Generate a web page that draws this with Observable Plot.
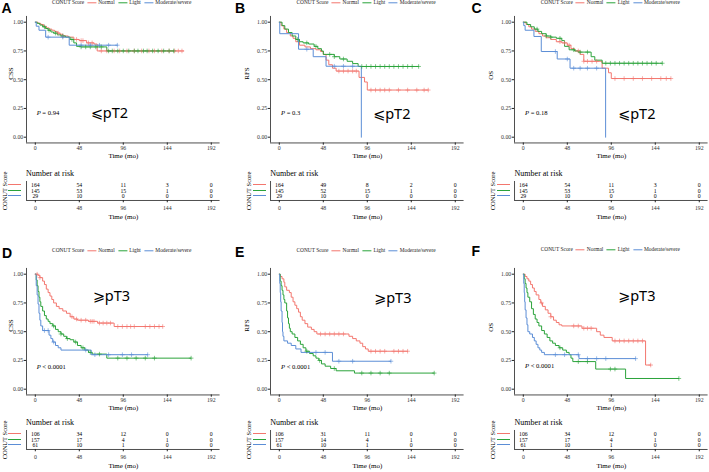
<!DOCTYPE html>
<html><head><meta charset="utf-8">
<script src="https://cdn.jsdelivr.net/npm/d3@7"></script>
<script src="https://cdn.jsdelivr.net/npm/@observablehq/plot@0.6"></script>
<style>
body{margin:0;background:#fff;}
#root{position:relative;width:709px;height:472px;overflow:hidden;background:#fff;font-family:"Liberation Serif",serif;}
.abs{position:absolute;white-space:nowrap;line-height:1;}
#root svg{position:absolute;overflow:visible;background:transparent;}
</style></head><body><div id="root"></div>
<script>
// ---------------- data ----------------
const GROUPS = ["Normal", "Light", "Moderate/severe"];
const COLORS = ["#F3766E", "#2AA33A", "#5B8ED6"];
const TIME_TICKS = [0, 48, 96, 144, 192];
const SURV_TICKS = [0, 0.25, 0.5, 0.75, 1];
const PANEL_IDS = ["A", "B", "C", "D", "E", "F"];
const Y_LABELS = ["CSS", "RFS", "OS", "CSS", "RFS", "OS"];
const P_VALUES = ["= 0.94", "= 0.3", "= 0.18", "< 0.0001", "< 0.0001", "< 0.0001"];
const STAGE_LABELS = ["⩽pT2", "⩽pT2", "⩽pT2", "⩾pT3", "⩾pT3", "⩾pT3"];

// Panel A  (CSS, <= pT2)
const A_normal = [[0,1],[3,0.99],[6,0.98],[9,0.965],[12,0.95],[15,0.94],[18,0.93],[21,0.92],[24,0.905],[27,0.895],[30,0.88],[36,0.87],[42,0.85],[48,0.84],[56,0.82],[64,0.81],[67.5,0.75],[162,0.75]];
const A_light = [[0,1],[2,0.99],[5,0.975],[8,0.96],[11,0.945],[14,0.93],[17,0.915],[20,0.905],[24,0.89],[28,0.88],[33,0.87],[38,0.85],[42,0.82],[45,0.79],[50,0.785],[78,0.75],[151,0.75]];
const A_mod = [[0,1],[1,0.965],[4,0.93],[11.3,0.87],[37,0.80],[89.5,0.80]];
const A_normal_cens = [25,30,45,50,52,58,62,72,78,86,92,100,108,116,124,130,138,146,152,156,160];
const A_light_cens = [10,15,22,30,40,50,55,60,66,72,80,84,90,96,102,108,112,118,122,128,134,140,146,151];
const A_mod_cens = [14,30,50,60,70,80,89.5];

// Panel B  (RFS, <= pT2)
const B_normal = [[0,1],[2,0.97],[5,0.94],[8,0.91],[12,0.88],[15,0.86],[18,0.83],[22,0.80],[28,0.785],[34,0.77],[40,0.76],[45,0.745],[48,0.72],[51,0.67],[54,0.63],[58,0.60],[62,0.575],[87,0.52],[93,0.48],[96,0.41],[162.5,0.41]];
const B_light = [[0,1],[3,0.97],[6,0.94],[10,0.91],[14,0.88],[18,0.85],[22,0.83],[26,0.82],[32,0.81],[38,0.79],[42,0.77],[46,0.75],[48,0.72],[60,0.70],[66,0.68],[74,0.66],[80,0.64],[86,0.615],[152,0.615]];
const B_mod = [[0,1],[0.5,0.90],[21,0.765],[37,0.70],[51,0.617],[89.5,0]];
const B_normal_cens = [65,70,75,80,84,100,105,110,115,120,130,140,150,158,162.5];
const B_light_cens = [20,30,40,55,60,70,90,95,100,105,110,115,120,125,130,135,140,145,152];
const B_mod_cens = [30,60,70,80];

// Panel C  (OS, <= pT2)
const C_normal = [[0,1],[3,0.98],[6,0.96],[9,0.94],[13,0.92],[17,0.90],[21,0.88],[25,0.865],[30,0.85],[36,0.83],[42,0.82],[48,0.80],[52,0.77],[56,0.75],[62,0.72],[66,0.66],[86,0.60],[93,0.56],[96,0.51],[161,0.51]];
const C_light = [[0,1],[4,0.98],[8,0.96],[12,0.94],[16,0.92],[20,0.90],[25,0.88],[30,0.87],[36,0.86],[42,0.84],[45,0.79],[50,0.76],[56,0.75],[60,0.74],[74,0.70],[78,0.67],[86,0.643],[151.6,0.643]];
const C_mod = [[0,1],[0.5,0.97],[2,0.93],[11.6,0.876],[19.6,0.745],[37,0.68],[51,0.60],[89.8,0]];
const C_normal_cens = [40,45,50,60,66,70,75,80,100,110,120,130,140,150,156,161];
const C_light_cens = [15,25,30,40,55,62,70,90,95,100,105,110,115,120,125,130,135,140,145,151.6];
const C_mod_cens = [35,48,55,62,70,80];

// Panel D  (CSS, >= pT3)
const D_normal = [[0,1],[3,0.99],[5,0.97],[8,0.94],[10,0.91],[12,0.87],[14,0.84],[16,0.81],[18,0.78],[20,0.75],[23,0.72],[26,0.70],[30,0.68],[34,0.66],[38,0.63],[42,0.61],[46,0.60],[58,0.59],[68,0.575],[86,0.545],[139,0.545]];
const D_light = [[0,1],[1,0.95],[2,0.90],[3,0.85],[4,0.80],[5,0.76],[6,0.72],[8,0.68],[10,0.64],[12,0.61],[14,0.59],[16,0.57],[19,0.55],[22,0.52],[25,0.50],[28,0.48],[31,0.46],[34,0.44],[38,0.43],[42,0.41],[46,0.38],[50,0.36],[54,0.34],[58,0.32],[62,0.305],[78,0.27],[170,0.27]];
const D_mod = [[0,1],[1,0.90],[2,0.82],[3,0.74],[4,0.66],[5,0.60],[6,0.55],[8,0.51],[15,0.47],[17,0.44],[19,0.41],[22,0.38],[25,0.36],[28,0.34],[61,0.30],[122.6,0.30]];
const D_normal_cens = [2,5,40,45,50,55,60,62,64,70,74,78,82,90,95,100,104,108,120,125,130,135,139];
const D_light_cens = [20,28,35,44,52,60,70,90,100,110,120,130,170];
const D_mod_cens = [10,14,20,55,65,80,95,105,122.6];

// Panel E  (RFS, >= pT3)
const E_normal = [[0,1],[1,0.98],[3,0.96],[5,0.93],[6,0.89],[8,0.86],[11,0.84],[13,0.80],[15,0.76],[17,0.73],[19,0.70],[21,0.67],[23,0.63],[25,0.60],[28,0.57],[31,0.54],[35,0.52],[38,0.50],[41,0.48],[76,0.46],[80,0.44],[84,0.42],[88,0.40],[91,0.37],[94,0.35],[97,0.33],[140,0.33]];
const E_light = [[0,1],[1,0.94],[2,0.90],[3,0.86],[4,0.82],[5,0.78],[6,0.75],[8,0.68],[9,0.62],[10,0.57],[11,0.53],[12,0.50],[14,0.48],[17,0.45],[20,0.42],[23,0.39],[26,0.36],[29,0.33],[33,0.31],[37,0.29],[40,0.27],[43,0.25],[46,0.22],[50,0.20],[56,0.18],[62,0.16],[82,0.14],[169,0.14]];
const E_mod = [[0,1],[0.5,0.92],[1,0.84],[1.5,0.76],[2,0.68],[3,0.58],[3.5,0.50],[4,0.46],[5,0.42],[9,0.40],[13,0.38],[18,0.35],[23.7,0.32],[58,0.243],[121.8,0.243]];
const E_normal_cens = [45,50,55,60,65,70,100,105,110,115,125,130,135,140];
const E_light_cens = [30,44,60,90,100,110,120,169];
const E_mod_cens = [40,50,65,80,121.8];

// Panel F  (OS, >= pT3)
const F_normal = [[0,1],[2,0.98],[4,0.96],[6,0.94],[8,0.91],[10,0.88],[12,0.85],[14,0.82],[17,0.78],[19,0.75],[21,0.72],[24,0.69],[27,0.66],[30,0.63],[33,0.60],[36,0.58],[39,0.56],[42,0.55],[64,0.53],[80,0.50],[84,0.47],[88,0.45],[97,0.42],[133.4,0.21],[139,0.21]];
const F_light = [[0,1],[1,0.96],[2,0.92],[3,0.88],[4,0.84],[5,0.80],[7,0.76],[9,0.70],[11,0.65],[13,0.61],[15,0.58],[17,0.55],[20,0.51],[23,0.48],[26,0.45],[29,0.42],[32,0.40],[35,0.38],[39,0.36],[43,0.34],[47,0.32],[50,0.30],[52,0.27],[54,0.24],[79,0.175],[111.6,0.093],[169.7,0.093]];
const F_mod = [[0,1],[0.5,0.92],[1,0.84],[1.5,0.76],[2,0.69],[3,0.62],[4,0.56],[5,0.50],[7,0.48],[10,0.45],[12,0.42],[14,0.39],[16,0.36],[18,0.34],[20,0.32],[23,0.30],[60.7,0.266],[122.5,0.266]];
const F_normal_cens = [20,30,55,60,66,70,74,100,105,110,115,120,125,130,139];
const F_light_cens = [40,60,70,95,100,169.7];
const F_mod_cens = [35,45,60,70,80,90,122.5];

// Number at risk (rows: Normal, Light, Moderate/severe; columns: TIME_TICKS)
const RISK_A = [[164,54,11,3,0],[145,53,15,1,0],[29,10,0,0,0]];
const RISK_B = [[164,49,8,2,0],[145,52,15,1,0],[29,10,0,0,0]];
const RISK_C = [[164,54,11,3,0],[145,53,15,1,0],[29,10,0,0,0]];
const RISK_D = [[106,34,12,0,0],[157,17,4,1,0],[61,10,1,0,0]];
const RISK_E = [[106,31,11,0,0],[157,14,4,1,0],[61,10,1,0,0]];
const RISK_F = [[106,34,12,0,0],[157,17,4,1,0],[61,10,1,0,0]];

const CURVES = [[A_normal,A_light,A_mod],[B_normal,B_light,B_mod],[C_normal,C_light,C_mod],[D_normal,D_light,D_mod],[E_normal,E_light,E_mod],[F_normal,F_light,F_mod]];
const CENSORS = [[A_normal_cens,A_light_cens,A_mod_cens],[B_normal_cens,B_light_cens,B_mod_cens],[C_normal_cens,C_light_cens,C_mod_cens],[D_normal_cens,D_light_cens,D_mod_cens],[E_normal_cens,E_light_cens,E_mod_cens],[F_normal_cens,F_light_cens,F_mod_cens]];
const RISKS = [RISK_A,RISK_B,RISK_C,RISK_D,RISK_E,RISK_F];

// ---------------- layout ----------------
const AXIS_LEFT = [25.7, 270, 514.3, 25.7, 270, 514.3];
const YLAB_OFF = [16, 23.3, 23.6, 16, 23.3, 23.6];
const ROW_TOP = [0, 0, 0, 252, 252, 252];
const TABLE_TOP = [170, 170, 170, 419, 419, 419];
const LETTER_POS = [[1.5,7.5],[235,7.5],[471.5,7.5],[2,252.5],[235,251.5],[471.5,250.5]];
const PVAL_POS = [[11,113],[11,113],[10.7,113],[11,366.7],[11,366.7],[10.7,366]];
const STAGE_POS = [[65,112],[103,113],[103.7,113],[67,295],[104,296.7],[103.7,295]];
const LEGEND_Y = [3, 3, 3, 251, 251, 250];

const XDOM = [-9.6, 201.6];
const ML = 40, MR = 10, KW = ML + 193.6 + MR;
const KMT = 15.95, KFH = 126.5, KMB = 20, KH = KMT + KFH + KMB;
const ROWSTEP = 5.5;                      // px between risk rows
const RMT = 11, RFH = 19, RMB = 22, RH = RMT + RFH + RMB;
const INK = "#000";

const root = document.getElementById("root");
function place(el, left, top) { el.style.left = left + "px"; el.style.top = top + "px"; root.appendChild(el); }
function html(text, x, y, css, anchor) {
  const d = document.createElement("div");
  d.className = "abs";
  d.textContent = text;
  Object.assign(d.style, css || {});
  d.style.left = x + "px"; d.style.top = y + "px";
  d.style.transform = anchor || "translate(0,-50%)";
  root.appendChild(d);
  return d;
}
function survAt(steps, t) { let s = steps[0][1]; for (const [tt, ss] of steps) if (tt <= t) s = ss; return s; }

function kmPlot(k) {
  const rows = [], cens = [];
  CURVES[k].forEach((c, i) => c.forEach(([t, s]) => rows.push({g: GROUPS[i], t, s})));
  CENSORS[k].forEach((c, i) => c.forEach(t => cens.push({g: GROUPS[i], t, s: survAt(CURVES[k][i], t)})));
  return Plot.plot({
    width: KW, height: KH, marginLeft: ML, marginRight: MR, marginTop: KMT, marginBottom: KMB,
    style: {fontFamily: "Liberation Serif", fontSize: "5.8px", color: "#333", background: "transparent"},
    x: {domain: XDOM},
    y: {domain: [-0.05, 1.05]},
    color: {domain: GROUPS, range: COLORS},
    marks: [
      Plot.ruleX([XDOM[0]], {stroke: "#222", strokeWidth: 0.8}),
      Plot.ruleY([-0.05], {stroke: "#222", strokeWidth: 0.8}),
      Plot.axisX({ticks: TIME_TICKS, tickSize: 2.3, tickPadding: 0.8, label: null, stroke: "#222", fill: "#333"}),
      Plot.axisY({ticks: SURV_TICKS, tickSize: 2.3, tickPadding: 1, label: null, tickFormat: d => d.toFixed(2), stroke: "#222", fill: "#333"}),
      Plot.line(rows, {x: "t", y: "s", z: "g", stroke: "g", curve: "step-after", strokeWidth: 1}),
      Plot.dot(cens, {x: "t", y: "s", stroke: "g", symbol: "plus", r: 1.6, strokeWidth: 0.6}),
      Plot.text(["Time (mo)"], {frameAnchor: "bottom", lineAnchor: "middle", dy: 13.3, fontSize: 7, fill: INK}),
      Plot.text([Y_LABELS[k]], {frameAnchor: "left", lineAnchor: "middle", dx: -YLAB_OFF[k], rotate: -90, fontSize: 7, fill: INK})
    ]
  });
}

function riskPlot(k) {
  const rows = [];
  RISKS[k].forEach((v, i) => v.forEach((n, j) => rows.push({i, t: TIME_TICKS[j], n})));
  const top = -4 / ROWSTEP, bottom = 2 + 4 / ROWSTEP;
  return Plot.plot({
    width: KW, height: RH, marginLeft: ML, marginRight: MR, marginTop: RMT, marginBottom: RMB,
    style: {fontFamily: "Liberation Serif", fontSize: "5.8px", color: "#333", background: "transparent"},
    x: {domain: XDOM},
    y: {domain: [top, bottom], reverse: true, axis: null},
    marks: [
      Plot.ruleX([XDOM[0]], {stroke: "#222", strokeWidth: 0.8}),
      Plot.ruleY([bottom], {stroke: "#222", strokeWidth: 0.8}),
      Plot.axisX({ticks: TIME_TICKS, tickSize: 2.3, tickPadding: 3.5, label: null, stroke: "#222", fill: "#333"}),
      Plot.text(rows, {x: "t", y: "i", text: "n", fontSize: 5.8, fill: INK}),
      Plot.text(["Time (mo)"], {frameAnchor: "bottom", lineAnchor: "middle", dy: 16.5, fontSize: 7, fill: INK})
    ]
  });
}

for (let k = 0; k < 6; k++) {
  const ax = AXIS_LEFT[k];
  place(kmPlot(k), ax - ML, ROW_TOP[k]);
  place(riskPlot(k), ax - ML, TABLE_TOP[k]);

  // panel letter
  html(PANEL_IDS[k], LETTER_POS[k][0], LETTER_POS[k][1], {fontFamily: "Liberation Sans", fontWeight: "bold", fontSize: "14px", color: "#000"});

  // legend
  const lg = document.createElement("div");
  lg.className = "abs";
  Object.assign(lg.style, {display: "flex", alignItems: "center", fontSize: "5.4px", color: "#222", left: (ax + 96) + "px", top: LEGEND_Y[k] + "px", transform: "translate(-50%,-50%)"});
  const lab = document.createElement("span"); lab.textContent = "CONUT Score"; lab.style.marginRight = "3px"; lg.appendChild(lab);
  GROUPS.forEach((g, i) => {
    const sw = document.createElement("span");
    Object.assign(sw.style, {display: "inline-block", width: "9px", height: "0", borderTop: "1px solid " + COLORS[i], marginRight: "2px"});
    lg.appendChild(sw);
    const t = document.createElement("span"); t.textContent = g; t.style.marginRight = i < 2 ? "3.5px" : "0"; lg.appendChild(t);
  });
  root.appendChild(lg);

  // p-value
  const pv = html("", ax + PVAL_POS[k][0], PVAL_POS[k][1], {fontSize: "6.6px", color: "#000"});
  const it = document.createElement("i"); it.textContent = "P"; pv.appendChild(it);
  pv.appendChild(document.createTextNode(" " + P_VALUES[k]));

  // stage label
  html(STAGE_LABELS[k], ax + STAGE_POS[k][0], STAGE_POS[k][1], {fontFamily: "'Noto Sans','DejaVu Sans',sans-serif", fontSize: "14.5px", color: "#000"});

  // risk table titles & swatches
  const tt = TABLE_TOP[k];
  html("Number at risk", ax + 0.3, tt + 4, {fontSize: "8px", color: "#000"});
  html("CONUT Score", ax - 21, tt + RMT + 4 + ROWSTEP, {fontSize: "6.5px", color: "#000"}, "translate(-50%,-50%) rotate(-90deg)");
  GROUPS.forEach((g, i) => {
    const s = document.createElement("div");
    s.className = "abs";
    Object.assign(s.style, {width: "13px", height: "0", borderTop: "1.2px solid " + COLORS[i], left: (ax - 17.4) + "px", top: (tt + RMT + 4 - 0.6 + i * ROWSTEP) + "px"});
    root.appendChild(s);
  });
}
</script></body></html>
